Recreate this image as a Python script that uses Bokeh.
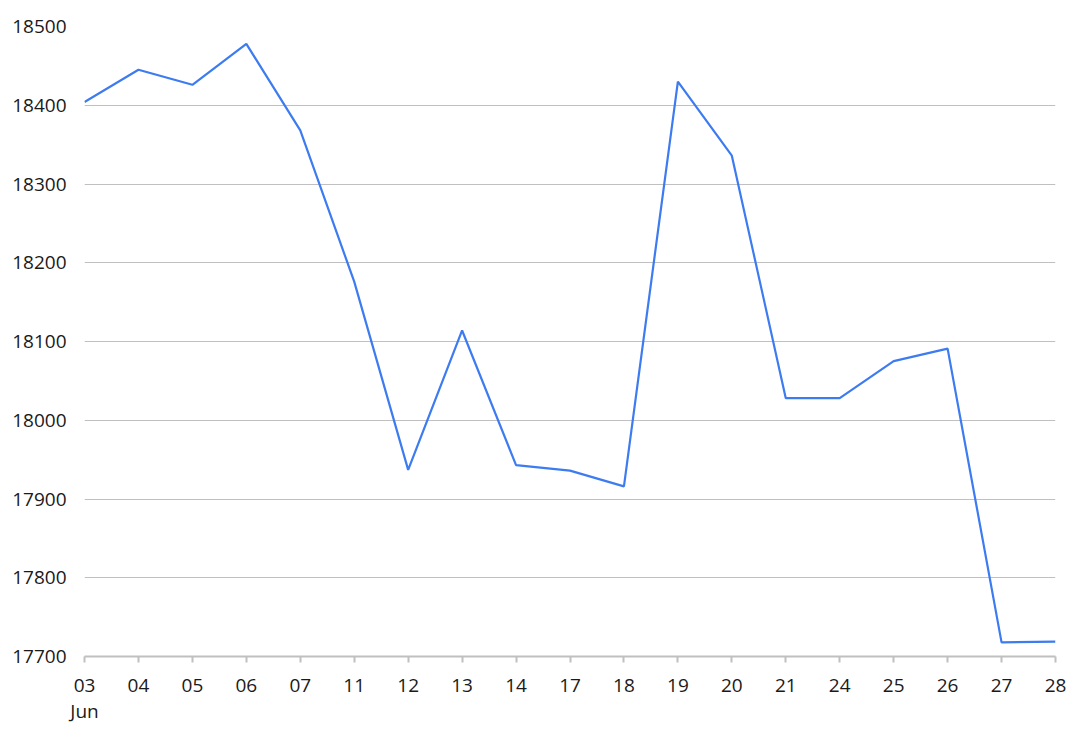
from bokeh.plotting import figure
from bokeh.models import FixedTicker, Range1d
from bokeh.embed import file_html
from bokeh.resources import INLINE

day_labels = ["03", "04", "05", "06", "07", "11", "12", "13", "14", "17",
              "18", "19", "20", "21", "24", "25", "26", "27", "28"]
month_label = "Jun"
values = [18404, 18445, 18426, 18478, 18368, 18176, 17937, 18114, 17943, 17936,
          17916, 18430, 18336, 18028, 18028, 18075, 18091, 17718, 17719]
y_ticks = [17700, 17800, 17900, 18000, 18100, 18200, 18300, 18400, 18500]

xs = list(range(len(values)))

p = figure(frame_width=971, frame_height=630, output_backend="svg", toolbar_location=None,
           x_range=Range1d(0, len(values) - 1), y_range=Range1d(17700, 18500),
           min_border_left=84, min_border_right=18, min_border_top=26, min_border_bottom=60)
p.outline_line_color = None
p.background_fill_color = "white"

p.line(xs, values, line_color="#3d7bf0", line_width=2.2)

FONT = "Open Sans"
TXT = "#1a1a1a"
GRAY = "#c0c0c0"

p.xgrid.visible = False
p.ygrid.grid_line_color = GRAY
p.ygrid.grid_line_width = 1.2
p.ygrid.ticker = FixedTicker(ticks=y_ticks)

ya = p.yaxis[0]
ya.ticker = FixedTicker(ticks=y_ticks)
ya.axis_line_color = None
ya.major_tick_line_color = None
ya.minor_tick_line_color = None
ya.major_label_text_font = FONT
ya.major_label_text_font_size = "19px"
ya.major_label_text_color = TXT
ya.major_label_standoff = 12

xa = p.xaxis[0]
xa.ticker = FixedTicker(ticks=xs)
overrides = {i: lab for i, lab in enumerate(day_labels)}
overrides[0] = day_labels[0] + "\n" + month_label
xa.major_label_overrides = overrides
xa.axis_line_color = GRAY
xa.axis_line_width = 2
xa.major_tick_line_color = GRAY
xa.major_tick_line_width = 2
xa.major_tick_out = 6
xa.major_tick_in = 0
xa.minor_tick_line_color = None
xa.major_label_text_font = FONT
xa.major_label_text_font_size = "19px"
xa.major_label_text_color = TXT
xa.major_label_text_line_height = 1.0
xa.major_label_standoff = 9

open("out.html", "w").write(file_html(p, INLINE))
